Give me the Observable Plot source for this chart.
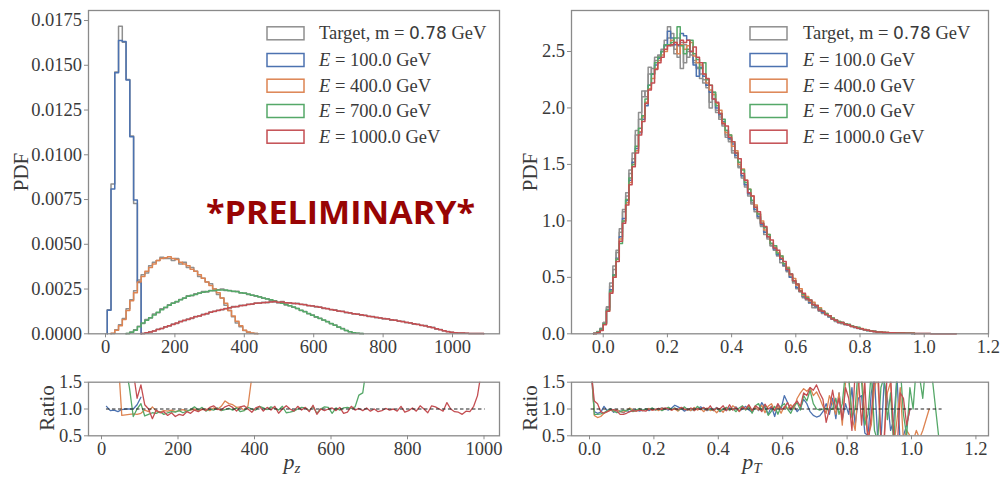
<!DOCTYPE html>
<html><head><meta charset="utf-8">
<script src="https://cdn.jsdelivr.net/npm/d3@7"></script>
<script src="https://cdn.jsdelivr.net/npm/@observablehq/plot@0.6"></script>
<style>
body{margin:0;background:#fff;}
#wrap{position:relative;width:1000px;height:480px;overflow:hidden;background:#fff;}
</style></head><body><div id="wrap"></div><script>
// ---------------- DATA ----------------
// p_z histograms: common bins, first edge and width (GeV)
const pzEdge0 = 5, pzWidth = 10.85;
const pzBlueStart = 0;
const pzBlue   = [0.00132,0.00809,0.01458,0.01638,0.01633,0.01418,0.01101,0.00747,0.00287];
const pzGray100= [0.00135,0.00837,0.01462,0.01718,0.01628,0.01420,0.01105,0.00728,0.00292];
const pzOrangeStart = 1;
const pzOrange = [0.00003,0.0002,0.00045,0.0008,0.0013,0.00185,0.0023,0.0029,0.0032,0.0035,0.0037,0.0039,0.0041,0.0042,0.00425,0.0043,0.0042,0.00415,0.0040,0.0039,0.0038,0.0036,0.0035,0.0033,0.0031,0.0029,0.0027,0.0025,0.0023,0.002,0.0017,0.0013,0.001,0.0007,0.00045,0.0002,0.0001,0.00004,0.00001];
const pzGray400= [0.00002,0.00022,0.0005,0.00085,0.0014,0.0019,0.0024,0.003,0.0033,0.0034,0.0038,0.004,0.0041,0.00428,0.0042,0.0042,0.0041,0.0042,0.0039,0.0040,0.0037,0.0037,0.0035,0.0032,0.0031,0.0029,0.0028,0.0025,0.0022,0.002,0.0016,0.0013,0.00095,0.0006,0.0004,0.00018,0.00008,0.00003,0.00001];
const pzGreenStart = 5;
const pzGreen  = [0.00002,0.00008,0.0002,0.0004,0.0006,0.00075,0.0009,0.00105,0.0012,0.00135,0.00148,0.0016,0.0017,0.0018,0.0019,0.002,0.0021,0.00215,0.0022,0.00228,0.00232,0.00236,0.0024,0.00242,0.00245,0.00244,0.00245,0.0024,0.00238,0.00235,0.0023,0.00226,0.00222,0.00215,0.00212,0.00206,0.002,0.00195,0.0019,0.00183,0.00176,0.0017,0.00163,0.00156,0.0015,0.00141,0.00132,0.00123,0.00114,0.00104,0.00095,0.00086,0.00077,0.00068,0.00058,0.00048,0.00038,0.00028,0.00019,0.00011,0.00006,0.00003,0.00001];
const pzGray700= [0.00001,0.0001,0.00022,0.00042,0.00058,0.0008,0.00088,0.0011,0.00118,0.0014,0.00145,0.00162,0.00172,0.00178,0.00192,0.00198,0.00212,0.00213,0.00224,0.00226,0.00236,0.00234,0.00242,0.0024,0.00246,0.0025,0.00242,0.00242,0.00236,0.00237,0.00228,0.00228,0.0022,0.00217,0.0021,0.00207,0.00198,0.00196,0.00188,0.00184,0.00174,0.00172,0.00161,0.00157,0.00148,0.00142,0.0013,0.00124,0.00112,0.00105,0.00093,0.00087,0.00075,0.00069,0.00056,0.00049,0.00036,0.00029,0.00018,0.00012,0.00005,0.00003,0.00001];
const pzRedStart = 9;
const pzRed    = [0.00002,0.00006,0.0001,0.00016,0.00024,0.0003,0.00038,0.00045,0.00052,0.0006,0.00068,0.00075,0.0008,0.00088,0.00095,0.001,0.00107,0.00113,0.0012,0.00126,0.0013,0.00136,0.0014,0.00146,0.0015,0.00153,0.00157,0.0016,0.00163,0.00167,0.0017,0.00172,0.00174,0.00176,0.00178,0.0018,0.00176,0.00178,0.00174,0.00172,0.0017,0.00168,0.00165,0.00162,0.00158,0.00155,0.00152,0.00148,0.00144,0.0014,0.00136,0.00132,0.00128,0.00124,0.0012,0.00116,0.00112,0.00109,0.00106,0.00102,0.00098,0.00095,0.00092,0.00088,0.00085,0.00082,0.00078,0.00075,0.00072,0.00068,0.00064,0.0006,0.00056,0.00052,0.00048,0.00044,0.0004,0.00034,0.00028,0.00022,0.00017,0.00012,0.00009,0.00006,0.00005,0.00004,0.00003,0.00002,0.00002,0.00001,0.00001];
const pzGray1000=[0.00001,0.00005,0.00012,0.00015,0.00026,0.00029,0.0004,0.00044,0.00055,0.00058,0.0007,0.00073,0.00083,0.00086,0.00097,0.00099,0.00109,0.00111,0.00122,0.00124,0.00132,0.00134,0.00142,0.00144,0.00152,0.00151,0.00159,0.00158,0.00165,0.00165,0.00172,0.0017,0.00176,0.00173,0.0018,0.00177,0.00174,0.00181,0.00172,0.00174,0.00168,0.0017,0.00163,0.00164,0.00156,0.00157,0.0015,0.0015,0.00142,0.00142,0.00134,0.00134,0.00126,0.00126,0.00118,0.00118,0.0011,0.00111,0.00104,0.00104,0.00096,0.00097,0.0009,0.0009,0.00083,0.00084,0.00076,0.00077,0.0007,0.0007,0.00062,0.00062,0.00054,0.00054,0.00046,0.00046,0.00038,0.00036,0.00026,0.00024,0.00015,0.00013,0.00008,0.00006,0.00004,0.00004,0.00003,0.00002,0.00001,0.00001,0.00001];

// p_z ratio (bin centres start at 13 GeV, step 10 GeV)
const pzRatioX0 = 13, pzRatioStep = 10, pzRatioCount = 100;
const rzBlueStart = 0;
const rzBlue = [1.05,0.97,0.98,0.95,0.99,1.0,1.0,1.0,1.08,1.22];
const rzOrangeStart = 1;
const rzOrange = [3.0,2.6,2.0,0.88,0.89,0.9,0.91,0.9,0.92,0.98,0.95,1.04,0.96,0.94,0.97,0.96,0.98,0.95,0.97,0.99,0.96,0.98,1.0,0.97,0.99,1.0,0.97,1.02,0.99,1.05,1.15,1.1,1.08,1.03,1.04,0.97,1.06,1.6,3.0];
const rzGreenStart = 5;
const rzGreen = [1.8,1.4,0.86,1.0,1.1,0.87,0.9,0.93,0.92,0.95,0.9,0.93,0.95,0.94,0.97,0.93,0.96,0.99,1.04,0.98,1.03,0.96,1.0,0.98,1.02,0.97,0.99,1.01,0.98,1.02,0.95,0.97,1.03,1.0,0.98,1.05,1.02,0.99,1.04,1.01,0.98,1.05,0.93,0.94,0.96,1.0,1.03,1.02,0.97,1.05,0.92,1.0,1.04,1.03,0.92,1.02,0.98,1.02,1.03,1.01,1.04,1.26,1.3,1.8,3.0];
const rzRedStart = 7;
const rzRed = [1.7,1.2,1.45,1.08,1.0,0.82,0.98,0.93,0.95,0.88,0.93,0.86,0.9,0.88,0.95,0.92,0.98,0.95,1.0,0.97,1.03,1.06,1.0,0.98,1.04,1.07,1.03,0.96,1.04,1.06,1.0,0.94,1.02,1.05,0.96,1.03,0.98,1.05,0.92,1.0,1.06,1.0,0.96,1.05,0.98,1.03,0.95,1.07,0.9,1.0,0.97,1.0,1.02,0.97,1.03,0.92,0.94,1.05,0.98,1.01,0.97,1.02,0.96,1.0,0.95,0.97,1.01,0.98,1.0,0.96,1.05,0.94,0.97,1.02,0.96,1.06,1.0,0.93,1.06,1.04,1.0,0.96,1.12,1.0,0.95,0.94,0.9,0.96,0.95,1.05,1.25,1.7];

// p_T histograms: bins of 0.01 starting at -0.03
const ptEdge0 = -0.03, ptWidth = 0.01;
const ptGrayA = [0.005,0.02,0.05,0.1,0.24,0.45,0.6,0.74,0.93,1.1, 1.25,1.45,1.6,1.8,1.96,2.15,2.1,2.36,2.3,2.45, 2.47,2.5,2.6,2.72,2.55,2.48,2.62,2.35,2.56,2.45, 2.5,2.4,2.35,2.26,2.22,2.18,2.0,2.14,1.96,1.9, 1.84,1.74,1.7,1.6,1.56,1.47,1.38,1.3,1.22,1.15, 1.08,1.02,0.95,0.9,0.84,0.78,0.74,0.7,0.63,0.6, 0.55,0.5,0.45,0.41,0.37,0.33,0.3,0.27,0.23,0.24, 0.2,0.19,0.17,0.15,0.13,0.11,0.1,0.09,0.08,0.075, 0.065,0.055,0.048,0.042,0.035,0.03,0.024,0.02,0.017,0.014, 0.012,0.01,0.009,0.008,0.007,0.006,0.005,0.0045,0.004,0.0035, 0.003,0.0027,0.0024,0.002,0.0017,0.0014,0.0011,0.0009,0.0007,0.0005,0.0004,0.0003,0.0002];
const ptGrayB = [0.004,0.018,0.045,0.1,0.23,0.42,0.57,0.72,0.9,1.08, 1.22,1.42,1.55,1.76,1.9,2.1,2.15,2.3,2.35,2.42, 2.46,2.52,2.56,2.62,2.66,2.52,2.45,2.58,2.4,2.5, 2.47,2.42,2.36,2.3,2.25,2.2,2.05,2.12,1.98,1.92, 1.86,1.76,1.72,1.62,1.58,1.48,1.4,1.32,1.24,1.16, 1.1,1.03,0.96,0.88,0.86,0.78,0.76,0.69,0.66,0.6, 0.56,0.5,0.46,0.4,0.38,0.32,0.31,0.27,0.25,0.23, 0.21,0.18,0.17,0.15,0.13,0.12,0.1,0.095,0.082,0.075, 0.066,0.058,0.05,0.043,0.036,0.03,0.025,0.02,0.017,0.014, 0.012,0.01,0.009,0.008,0.007,0.006,0.005,0.0045,0.004,0.0035];
const ptBlue = [0.003,0.014,0.04,0.09,0.21,0.39,0.52,0.67,0.86,1.02, 1.18,1.36,1.52,1.64,1.78,1.9,2.02,2.2,2.3,2.38, 2.44,2.5,2.55,2.68,2.62,2.56,2.55,2.66,2.64,2.6, 2.5,2.38,2.28,2.36,2.28,2.2,2.14,2.08,2.0,1.94, 1.88,1.8,1.73,1.68,1.58,1.5,1.4,1.32,1.24,1.18, 1.1,1.04,0.97,0.9,0.86,0.8,0.75,0.7,0.66,0.61, 0.56,0.5,0.47,0.41,0.38,0.33,0.31,0.28,0.26,0.24, 0.21,0.19,0.17,0.15,0.13,0.12,0.1,0.1,0.085,0.075, 0.068,0.055,0.05,0.043,0.035,0.03,0.024,0.02,0.017,0.014, 0.012,0.01,0.009,0.008,0.007,0.006,0.005,0.004,0.004,0.003];
const ptOrange = [0.002,0.012,0.035,0.085,0.2,0.37,0.5,0.66,0.84,1.0, 1.16,1.34,1.5,1.62,1.79,1.92,2.05,2.17,2.26,2.35, 2.42,2.47,2.5,2.56,2.6,2.58,2.48,2.56,2.52,2.55, 2.58,2.46,2.4,2.38,2.3,2.22,2.16,2.12,2.04,1.98, 1.87,1.78,1.76,1.66,1.62,1.5,1.46,1.36,1.28,1.22, 1.14,1.06,1.0,0.92,0.88,0.8,0.78,0.72,0.69,0.62, 0.59,0.52,0.49,0.43,0.4,0.34,0.33,0.29,0.28,0.25, 0.23,0.2,0.18,0.16,0.14,0.12,0.11,0.1,0.09,0.08, 0.07,0.06,0.052,0.046,0.038,0.031,0.027,0.021,0.018,0.015, 0.013,0.011,0.01,0.009,0.008,0.007,0.006,0.005,0.0045,0.004];
const ptGreen = [0.003,0.015,0.04,0.09,0.21,0.38,0.52,0.66,0.8,1.0, 1.19,1.38,1.5,1.66,1.82,1.93,2.08,2.2,2.3,2.4, 2.45,2.5,2.56,2.56,2.58,2.62,2.72,2.55,2.48,2.52, 2.6,2.48,2.43,2.35,2.4,2.25,2.2,2.14,2.02,1.95, 1.9,1.8,1.76,1.7,1.6,1.52,1.45,1.34,1.28,1.18, 1.12,1.06,0.98,0.94,0.88,0.8,0.78,0.71,0.69,0.62, 0.58,0.53,0.47,0.44,0.38,0.35,0.32,0.3,0.26,0.25, 0.22,0.2,0.18,0.16,0.14,0.12,0.11,0.1,0.09,0.085, 0.07,0.062,0.058,0.044,0.038,0.03,0.026,0.022,0.018,0.015, 0.012,0.011,0.01,0.009,0.008,0.007,0.006,0.005,0.0045,0.004];
const ptRed = [0.002,0.01,0.03,0.08,0.2,0.36,0.5,0.64,0.82,0.98, 1.14,1.32,1.48,1.6,1.76,1.88,2.04,2.16,2.22,2.34, 2.4,2.45,2.52,2.55,2.56,2.58,2.56,2.6,2.58,2.6, 2.5,2.54,2.45,2.4,2.3,2.26,2.2,2.08,2.05,1.95, 1.86,1.84,1.74,1.7,1.6,1.55,1.42,1.36,1.25,1.22, 1.12,1.08,0.98,0.95,0.86,0.83,0.76,0.74,0.67,0.64, 0.57,0.53,0.47,0.44,0.38,0.36,0.31,0.3,0.26,0.25, 0.21,0.2,0.17,0.16,0.13,0.12,0.1,0.1,0.085,0.08, 0.065,0.06,0.05,0.045,0.036,0.032,0.025,0.021,0.017,0.015, 0.012,0.011,0.009,0.009,0.007,0.007,0.006,0.005,0.004,0.004, 0.0035,0.003,0.0025,0.002,0.0017,0.0014,0.0011,0.0009,0.0007,0.0005,0.0004,0.0003,0.0002];

// p_T ratio (bin centres from 0.005, step 0.01)
const ptRatioX0 = 0.005, ptRatioStep = 0.01, ptRatioCount = 110;
const rtBlue = [1.7,0.95,0.92,0.94,1.05,0.97,1.0,0.94,0.98,0.96, 0.93,0.97,0.95,0.97,0.99,0.96,0.98,1.0,0.97,1.01, 0.99,1.0,1.02,1.0,0.98,1.02,1.07,1.04,1.01,0.96, 1.0,0.97,1.02,0.99,1.04,1.0,0.97,1.01,0.98,1.03, 0.95,1.0,0.97,1.02,0.99,1.04,0.96,1.0,1.05,0.98, 0.94,1.03,0.97,1.12,1.02,0.9,1.05,0.86,1.08,1.0, 1.25,1.12,0.98,1.05,0.95,1.02,1.18,1.1,0.95,0.88, 0.85,0.87,0.95,1.1,0.9,1.2,0.82,1.3,0.8,1.1, 0.9,1.4,0.7,1.2,1.25,0.55,0.5,1.3,1.6,0.45, 0.4,1.5,1.2,0.6,0.8,1.6,0.3,0.5,0.7,1.0];
const rtOrange = [1.8,0.88,0.84,0.86,0.92,0.95,0.98,0.96,0.99,0.95, 0.94,0.97,1.02,0.98,0.96,1.0,0.97,0.99,1.01,0.98, 1.0,0.97,1.02,0.99,1.03,0.98,1.0,0.96,1.02,0.99, 1.0,0.97,1.03,0.98,1.01,0.95,1.02,0.97,0.99,0.93, 1.0,0.94,1.03,0.97,1.06,1.02,0.95,1.04,0.99,1.06, 0.96,1.03,0.98,1.07,0.93,1.05,1.1,0.97,1.04,0.92, 1.05,1.0,1.08,1.0,1.2,1.3,1.38,1.33,1.4,1.25, 1.32,1.2,1.05,0.92,1.25,1.1,0.9,1.3,0.7,1.5, 1.6,0.85,0.6,1.45,1.7,0.9,0.5,0.7,1.4,1.6, 0.4,0.5,1.3,1.5,0.3,0.8,1.4,0.4,0.6,0.5, 0.4,0.6,0.45,0.6,0.8,1.0];
const rtGreen = [1.9,0.9,0.9,0.91,0.93,0.97,1.0,0.96,0.93,0.95, 0.98,0.97,1.0,0.95,0.98,1.01,0.97,1.0,0.99,1.02, 0.98,1.01,0.97,1.0,1.03,0.99,1.02,0.98,1.0,1.04, 0.98,1.01,0.97,1.05,0.99,1.02,0.98,1.0,0.97,1.02, 0.96,1.0,1.03,0.98,1.01,0.95,1.02,1.06,0.98,1.04, 0.92,1.06,1.1,0.97,1.08,0.88,0.96,1.05,0.9,1.05, 1.1,1.0,0.92,1.05,1.12,0.98,1.25,1.15,1.35,1.1, 1.0,0.98,1.0,1.01,0.99,1.0,1.2,0.9,1.1,1.7, 1.6,0.85,1.0,1.8,1.5,0.7,0.9,1.7,0.6,0.4, 1.4,1.6,0.8,1.3,0.3,1.7,1.8,0.9,0.5,1.4, 1.0,1.8,1.6,1.2,1.9,1.7,1.55,1.0,0.45];
const rtRed = [1.7,1.15,1.1,0.95,0.92,0.95,0.98,0.99,0.96,0.9, 0.9,0.92,0.95,0.97,0.96,0.98,0.97,0.96,1.0,0.98, 0.99,1.01,0.99,1.02,1.0,0.98,1.01,0.99,1.03,1.0, 0.98,1.02,0.97,1.01,0.99,1.03,0.98,1.06,0.97,1.02, 1.0,1.06,0.97,1.08,0.98,1.03,0.96,1.04,1.0,1.08, 0.97,1.06,1.02,0.95,1.09,1.0,1.04,0.97,1.1,0.99, 1.02,1.12,1.0,1.08,1.15,1.05,1.3,1.25,1.4,1.35, 1.45,1.3,1.18,0.75,1.0,1.35,1.0,1.2,0.8,1.4, 1.2,0.6,1.7,1.6,0.7,1.5,0.3,0.9,1.6,1.9, 0.4,0.3,1.8,1.6,0.5,0.2,1.3,1.2,0.7,1.0];

const energies = [100, 400, 700, 1000];
const targetMass = "0.78";
const pzTicks = [0, 200, 400, 600, 800, 1000];
const pzPdfTicks = [0, 0.0025, 0.005, 0.0075, 0.01, 0.0125, 0.015, 0.0175];
const ptTicks = [0, 0.2, 0.4, 0.6, 0.8, 1.0, 1.2];
const ptPdfTicks = [0, 0.5, 1.0, 1.5, 2.0, 2.5];
const ratioTicks = [0.5, 1.0, 1.5];

// ---------------- STYLE ----------------
const COL = {gray:"#8f8f8f", blue:"#4c72b0", orange:"#dd8452", green:"#55a868", red:"#c44e52"};
const FONT = "'Liberation Serif', 'DejaVu Serif', serif";
const FRAME = "#8a8a8a", TXT = "#3a3a3a";
const wrap = document.getElementById("wrap");

function steps(e0, w, start, vals) {
  const pts = [{x: e0 + start*w, y: 0}];
  vals.forEach((v,i) => pts.push({x: e0 + (start+i)*w, y: v}));
  pts.push({x: e0 + (start+vals.length)*w, y: 0});
  return pts;
}
function ratio(x0, step, start, vals) {
  return vals.map((v,i) => ({x: x0 + (start+i)*step, y: v}));
}
function hist(data, color) {
  return Plot.line(data, {x:"x", y:"y", curve:"step-after", stroke: color, strokeWidth: 1.5});
}
function rline(data, color) {
  return Plot.line(data, {x:"x", y:"y", stroke: color, strokeWidth: 1.3, clip: true});
}

function panel(o) {
  const svg = Plot.plot({
    width: o.w, height: o.h,
    marginLeft: o.ml, marginRight: o.mr, marginTop: o.mt, marginBottom: o.mb,
    x: {domain: o.xd, label: null},
    y: {domain: o.yd, label: null},
    style: {fontFamily: FONT, fontSize: "18.5px", background: "transparent", overflow: "visible"},
    marks: [
      ...o.marks,
      Plot.frame({stroke: FRAME, strokeWidth: 1.3}),
      Plot.axisX(o.xt, {tickFormat: o.xf, tickSize: 4, tickPadding: 2.5, stroke: FRAME, fill: TXT, label: null}),
      Plot.axisY(o.yt, {tickFormat: o.yf, tickSize: 4, tickPadding: 2.5, stroke: FRAME, fill: TXT, label: null})
    ]
  });
  svg.style.position = "absolute";
  svg.style.left = o.left + "px";
  svg.style.top = o.top + "px";
  wrap.appendChild(svg);
}

const f4 = d3.format(".4f"), f1 = d3.format(".1f"), fd = d3.format("d");

// left main
panel({left:0, top:0, w:500, h:360, ml:88, mr:1, mt:10, mb:26.7,
  xd:[-49, 1135.4], yd:[0, 0.01806], xt: pzTicks, yt: pzPdfTicks, xf: fd, yf: f4,
  marks: [
    hist(steps(pzEdge0, pzWidth, pzBlueStart, pzGray100), COL.gray),
    hist(steps(pzEdge0, pzWidth, pzOrangeStart, pzGray400), COL.gray),
    hist(steps(pzEdge0, pzWidth, pzGreenStart, pzGray700), COL.gray),
    hist(steps(pzEdge0, pzWidth, pzRedStart, pzGray1000), COL.gray),
    hist(steps(pzEdge0, pzWidth, pzBlueStart, pzBlue), COL.blue),
    hist(steps(pzEdge0, pzWidth, pzOrangeStart, pzOrange), COL.orange),
    hist(steps(pzEdge0, pzWidth, pzGreenStart, pzGreen), COL.green),
    hist(steps(pzEdge0, pzWidth, pzRedStart, pzRed), COL.red)
  ]});

// right main
panel({left:500, top:0, w:500, h:360, ml:71, mr:12, mt:10, mb:26.7,
  xd:[-0.0988, 1.2003], yd:[0, 2.863], xt: ptTicks, yt: ptPdfTicks, xf: f1, yf: f1,
  marks: [
    hist(steps(ptEdge0, ptWidth, 0, ptGrayA), COL.gray),
    hist(steps(ptEdge0, ptWidth, 0, ptGrayB), COL.gray),
    hist(steps(ptEdge0, ptWidth, 0, ptBlue), COL.blue),
    hist(steps(ptEdge0, ptWidth, 0, ptOrange), COL.orange),
    hist(steps(ptEdge0, ptWidth, 0, ptGreen), COL.green),
    hist(steps(ptEdge0, ptWidth, 0, ptRed), COL.red)
  ]});

// left ratio
panel({left:0, top:360, w:500, h:120, ml:88, mr:1, mt:21.7, mb:44.7,
  xd:[-34, 1040.5], yd:[0.5, 1.5], xt: pzTicks, yt: ratioTicks, xf: fd, yf: f1,
  marks: [
    rline(ratio(pzRatioX0, pzRatioStep, rzBlueStart, rzBlue), COL.blue),
    rline(ratio(pzRatioX0, pzRatioStep, rzOrangeStart, rzOrange), COL.orange),
    rline(ratio(pzRatioX0, pzRatioStep, rzGreenStart, rzGreen), COL.green),
    rline(ratio(pzRatioX0, pzRatioStep, rzRedStart, rzRed), COL.red),
    Plot.ruleY([1], {x1: pzRatioX0, x2: pzRatioX0 + (pzRatioCount-1)*pzRatioStep, stroke:"#222", strokeWidth:1, strokeDasharray:"3.5,2.5"})
  ]});

// right ratio
panel({left:500, top:360, w:500, h:120, ml:71, mr:12, mt:21.7, mb:44.7,
  xd:[-0.0559, 1.2391], yd:[0.5, 1.5], xt: ptTicks, yt: ratioTicks, xf: f1, yf: f1,
  marks: [
    rline(ratio(ptRatioX0, ptRatioStep, 0, rtBlue), COL.blue),
    rline(ratio(ptRatioX0, ptRatioStep, 0, rtOrange), COL.orange),
    rline(ratio(ptRatioX0, ptRatioStep, 0, rtGreen), COL.green),
    rline(ratio(ptRatioX0, ptRatioStep, 0, rtRed), COL.red),
    Plot.ruleY([1], {x1: ptRatioX0, x2: ptRatioX0 + (ptRatioCount-1)*ptRatioStep, stroke:"#222", strokeWidth:1, strokeDasharray:"3.5,2.5"})
  ]});

// ---------------- TEXT OVERLAY ----------------
const ov = d3.create("svg").attr("width",1000).attr("height",480)
  .style("position","absolute").style("left","0px").style("top","0px")
  .style("font-family", FONT);
wrap.appendChild(ov.node());

function vlabel(x, y, txt) {
  ov.append("text").attr("transform", `translate(${x},${y}) rotate(-90)`)
    .attr("text-anchor","middle").attr("dominant-baseline","central")
    .attr("font-size", 21).attr("fill", TXT).text(txt);
}
vlabel(21, 172, "PDF");
vlabel(530, 172, "PDF");
vlabel(47, 408, "Ratio");
vlabel(530, 408, "Ratio");

function xlabel(x, y, sub) {
  const t = ov.append("text").attr("x", x).attr("y", y).attr("text-anchor","middle")
    .attr("font-size", 22).attr("fill", TXT).attr("font-style","italic");
  t.append("tspan").text("p");
  t.append("tspan").attr("font-size", 15).attr("dy", 4).text(sub);
}
xlabel(292, 469, "z");
xlabel(752, 469, "T");

const legendRows = [33.3, 60, 85.7, 111, 136.7];
const legendColors = [COL.gray, COL.blue, COL.orange, COL.green, COL.red];
function legend(bx, tx) {
  legendRows.forEach((y, i) => {
    ov.append("rect").attr("x", bx).attr("y", y-6.5).attr("width", 37).attr("height", 13)
      .attr("fill","none").attr("stroke", legendColors[i]).attr("stroke-width", 1.5);
    const t = ov.append("text").attr("x", tx).attr("y", y+6).attr("font-size", 18.5)
      .attr("fill", TXT).attr("xml:space","preserve");
    if (i === 0) {
      t.append("tspan").text("Target, m = ");
      t.append("tspan").attr("font-family","'DejaVu Sans', sans-serif").attr("font-size", 17).text(targetMass);
      t.append("tspan").text(" GeV");
    } else {
      t.append("tspan").attr("font-style","italic").text("E");
      t.append("tspan").text(" = " + energies[i-1].toFixed(1) + " GeV");
    }
  });
}
legend(267, 319);
legend(750, 803);

ov.append("text").attr("x", 206).attr("y", 224)
  .attr("font-family", "'Open Sans', Roboto, sans-serif").attr("font-weight", 700)
  .attr("font-size", 32).attr("fill", "#980404")
  .attr("textLength", 269).attr("lengthAdjust", "spacingAndGlyphs")
  .text("*PRELIMINARY*");
</script></body></html>
